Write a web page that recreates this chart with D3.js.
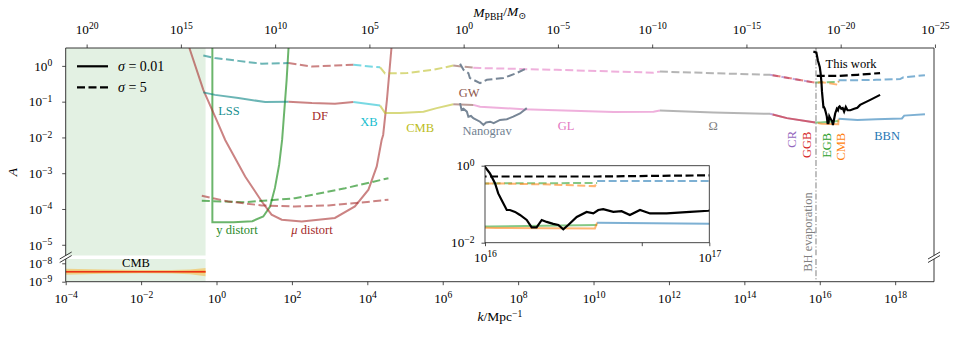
<!DOCTYPE html>
<html>
<head>
<meta charset="utf-8">
<script src="https://cdn.jsdelivr.net/npm/d3@7"></script>
<style>
body { margin: 0; background: #fff; }
text { font-family: "Liberation Serif", "DejaVu Serif", serif; }
</style>
</head>
<body>
<div id="chart"></div>
<script>
// all pairs are [log10(k / Mpc^-1), log10(A)]
const lssSolid = [[-0.35,-0.74],[-0.04,-0.81],[0.58,-0.90],[1.29,-1.01],[1.91,-1.00]]
const lssDash = [[-0.35,0.29],[-0.04,0.22],[0.58,0.14],[1.2,0.06],[1.91,0.08]]
const dfSolid = [[1.91,-1.00],[2.53,-1.04],[3.14,-1.06],[3.63,-1.01]]
const dfDash = [[1.91,0.08],[2.53,-0.02],[3.14,0.01],[3.63,0.03]]
const xbSolid = [[3.63,-1.01],[4.34,-1.11]]
const xbDash = [[3.63,0.03],[4.34,-0.04]]
const cmbSolid = [[4.34,-1.11],[4.47,-1.32],[4.87,-1.32],[5.49,-1.28],[5.84,-1.18],[6.28,-1.07]]
const cmbDash = [[4.34,-0.04],[4.47,-0.21],[5.05,-0.20],[5.75,-0.11],[6.28,0.01]]
const gwSolid = [[6.28,-1.07],[6.81,-1.09]]
const gwDash = [[6.28,0.01],[6.81,-0.05]]
const glSolid = [[6.81,-1.09],[6.99,-1.14],[8.14,-1.21],[10.53,-1.29],[11.59,-1.28],[11.76,-1.25]]
const glDash = [[6.81,-0.05],[6.99,-0.06],[9.02,-0.11],[11.59,-0.19],[11.76,-0.16]]
const omegaSolid = [[11.76,-1.25],[13.18,-1.30],[14.68,-1.34]]
const omegaDash = [[11.76,-0.16],[14.68,-0.25]]
const crSolid = [[14.68,-1.34],[15.13,-1.46],[15.88,-1.58]]
const crDash = [[14.68,-0.25],[15.88,-0.47]]
const ggbSolid = [[14.75,-1.36],[15.13,-1.46],[15.88,-1.58]]
const ggbDash = [[14.75,-0.26],[15.88,-0.47]]
const egbSolid = [[15.88,-1.58],[16.02,-1.58],[16.5,-1.54]]
const egbDash = [[15.88,-0.47],[16.0,-0.46],[16.5,-0.45]]
const cmbGSolid = [[15.95,-1.60],[16.05,-1.62],[16.49,-1.63],[16.5,-1.48]]
const cmbGDash = [[15.95,-0.47],[16.05,-0.46],[16.3,-0.49],[16.49,-0.53],[16.5,-0.42]]
const bbnSolid = [[16.5,-1.48],[17.0,-1.51],[17.5,-1.49],[18.18,-1.47],[18.24,-1.39],[18.79,-1.35]]
const bbnDash = [[16.5,-0.40],[17.0,-0.40],[17.5,-0.39],[18.13,-0.37],[18.22,-0.32],[18.79,-0.26]]
const nanogravSolid = [[6.46,-1.04],[6.50,-1.23],[6.55,-1.20],[6.64,-1.28],[6.68,-1.42],[6.75,-1.40],[6.81,-1.46],[6.99,-1.56],[7.08,-1.65],[7.15,-1.58],[7.26,-1.56],[7.35,-1.60],[7.52,-1.51],[7.70,-1.49],[7.87,-1.42],[8.05,-1.33],[8.23,-1.18]]
const nanogravDash = [[6.46,0.06],[6.55,-0.11],[6.68,-0.20],[6.72,-0.34],[6.99,-0.48],[7.17,-0.39],[7.61,-0.34],[7.96,-0.20],[8.18,-0.09]]
const yDistSolid = [[-0.11,0.5],[-0.11,-4.37],[0.45,-4.37],[0.95,-4.34],[1.24,-4.21],[1.42,-3.93],[1.55,-3.41],[1.66,-2.77],[1.74,-2.07],[1.80,-1.23],[1.86,-0.39],[1.91,0.5]]
const muDistSolid = [[-0.72,0.5],[-0.35,-0.67],[0.0,-1.51],[0.23,-2.07],[0.76,-3.09],[1.20,-3.79],[1.46,-4.16],[1.73,-4.30],[2.26,-4.35],[3.14,-4.25],[3.67,-3.93],[4.03,-3.46],[4.25,-2.81],[4.38,-2.07],[4.42,-1.93],[4.52,-0.95],[4.64,0.5]]
const yDistDash = [[-0.39,-3.77],[0.44,-3.80],[0.76,-3.81],[2.08,-3.70],[3.41,-3.42],[4.56,-3.14]]
const muDistDash = [[-0.39,-3.63],[0.31,-3.79],[1.20,-3.90],[2.08,-3.93],[2.97,-3.90],[3.85,-3.82],[4.56,-3.74]]
const thisWorkSolid = [[15.83,0.40],[15.91,0.37],[15.95,0.15],[16.0,-0.03],[16.022,-0.20],[16.045,-0.46],[16.059,-0.72],[16.074,-0.89],[16.097,-1.15],[16.111,-1.15],[16.134,-1.20],[16.156,-1.28],[16.186,-1.41],[16.208,-1.60],[16.23,-1.60],[16.253,-1.41],[16.275,-1.46],[16.304,-1.51],[16.327,-1.54],[16.349,-1.65],[16.371,-1.54],[16.409,-1.33],[16.453,-1.20],[16.483,-1.24],[16.505,-1.15],[16.527,-1.13],[16.572,-1.20],[16.609,-1.18],[16.646,-1.28],[16.691,-1.15],[16.736,-1.24],[16.81,-1.24],[16.914,-1.20],[16.996,-1.17],[17.07,-1.09],[17.34,-0.95],[17.6,-0.81]]
const thisWorkDash = [[15.92,-0.28],[16.5,-0.28],[17.0,-0.25],[17.6,-0.20]]
// CMB amplitude band in the lower panel
const cmbBandK = [-4, -3, -2, -1.2, -0.7, -0.29]
const cmbBandLo = [-8.62, -8.57, -8.54, -8.55, -8.60, -8.70]
const cmbBandHi = [-8.29, -8.34, -8.37, -8.37, -8.33, -8.26]
const cmbBandIn = [0.06, 0.05, 0.04, 0.04, 0.05, 0.07]
const cmbCentre = -8.46
const shadedK = [-4, -0.29]
const evaporationK = 15.9
const kTicks = [-4,-2,0,2,4,6,8,10,12,14,16,18]
const mTicks = [20,15,10,5,0,-5,-10,-15,-20,-25]
const aTicks = [0,-1,-2,-3,-4,-5]
const aLowTicks = [-8,-9]

const width = 959
const height = 337
const left = 65.7, right = 934
const topY = 48, upperBottom = 255.5, lowerTop = 259, bottomY = 281.7

const p10 = v => Math.pow(10, v)
const mOf = lk => -2 * (lk - 6.555)

const x = d3.scaleLog().domain([p10(-4), p10(19.03)]).range([left, right])
const xM = d3.scaleLog().domain([p10(mOf(-4)), p10(mOf(19.03))]).range([left, right])
const yUp = d3.scaleLog().domain([p10(-5.3), p10(0.5)]).range([upperBottom, topY])
const yLow = d3.scaleLog().domain([p10(-9), p10(-7.766)]).range([bottomY, lowerTop])

const svg = d3.select("#chart").append("svg")
    .attr("width", width).attr("height", height)
    .attr("viewBox", [0, 0, width, height])

const defs = svg.append("defs")
defs.append("clipPath").attr("id", "clip-up").append("rect")
    .attr("x", left).attr("y", topY).attr("width", right - left).attr("height", upperBottom - topY)
defs.append("clipPath").attr("id", "clip-low").append("rect")
    .attr("x", left).attr("y", lowerTop).attr("width", right - left).attr("height", bottomY - lowerTop)

const layer_shade = svg.append("g")
const layer_lines = svg.append("g").attr("clip-path", "url(#clip-up)")
const layer_low = svg.append("g").attr("clip-path", "url(#clip-low)")
const layer_text = svg.append("g").attr("font-size", 12.5)
const layer_inset = svg.append("g")
const layer_axes = svg.append("g")

// shaded (excluded) region
layer_shade.append("rect")
    .attr("x", x(p10(shadedK[0]))).attr("y", topY)
    .attr("width", x(p10(shadedK[1])) - x(p10(shadedK[0])))
    .attr("height", upperBottom - topY)
    .attr("fill", "green").attr("fill-opacity", 0.11)
layer_shade.append("rect")
    .attr("x", x(p10(shadedK[0]))).attr("y", lowerTop)
    .attr("width", x(p10(shadedK[1])) - x(p10(shadedK[0])))
    .attr("height", bottomY - lowerTop)
    .attr("fill", "green").attr("fill-opacity", 0.11)

const lineFor = (xs, ys) => d3.line().x(d => xs(p10(d[0]))).y(d => ys(p10(d[1])))
const mainLine = lineFor(x, yUp)

const series = [
    {d: yDistSolid, c: "green", dash: false},
    {d: muDistSolid, c: "brown", dash: false},
    {d: yDistDash, c: "green", dash: true},
    {d: muDistDash, c: "brown", dash: true},
    {d: lssSolid, c: "teal", dash: false},
    {d: lssDash, c: "teal", dash: true},
    {d: dfSolid, c: "brown", dash: false},
    {d: dfDash, c: "brown", dash: true},
    {d: xbSolid, c: "#17becf", dash: false},
    {d: xbDash, c: "#17becf", dash: true},
    {d: cmbSolid, c: "#bcbd22", dash: false},
    {d: cmbDash, c: "#bcbd22", dash: true},
    {d: glSolid, c: "#e377c2", dash: false},
    {d: glDash, c: "#e377c2", dash: true},
    {d: gwSolid, c: "#8c564b", dash: false},
    {d: gwDash, c: "#8c564b", dash: true},
    {d: omegaSolid, c: "#7f7f7f", dash: false},
    {d: omegaDash, c: "#7f7f7f", dash: true},
    {d: crSolid, c: "#9467bd", dash: false},
    {d: crDash, c: "#9467bd", dash: true},
    {d: ggbSolid, c: "#d62728", dash: false},
    {d: ggbDash, c: "#d62728", dash: true},
    {d: egbSolid, c: "#2ca02c", dash: false},
    {d: egbDash, c: "#2ca02c", dash: true},
    {d: cmbGSolid, c: "#ff7f0e", dash: false},
    {d: cmbGDash, c: "#ff7f0e", dash: true},
    {d: bbnSolid, c: "#1f77b4", dash: false},
    {d: bbnDash, c: "#1f77b4", dash: true},
    {d: nanogravSolid, c: "slategray", dash: false, op: 0.95},
    {d: nanogravDash, c: "slategray", dash: true, op: 0.95},
]

layer_lines.selectAll("path.series")
    .data(series)
    .join("path")
    .attr("class", "series")
    .attr("fill", "none")
    .attr("stroke", s => s.c)
    .attr("stroke-opacity", s => s.op || 0.58)
    .attr("stroke-width", 2)
    .attr("stroke-dasharray", s => s.dash ? "8,3.5" : null)
    .attr("d", s => mainLine(s.d))

// evaporation line
layer_lines.append("line")
    .attr("x1", x(p10(evaporationK))).attr("x2", x(p10(evaporationK)))
    .attr("y1", topY).attr("y2", upperBottom)
    .attr("stroke", "#808080").attr("stroke-width", 1)
    .attr("stroke-dasharray", "6,2,1.2,2")
layer_low.append("line")
    .attr("x1", x(p10(evaporationK))).attr("x2", x(p10(evaporationK)))
    .attr("y1", lowerTop).attr("y2", bottomY)
    .attr("stroke", "#808080").attr("stroke-width", 1)
    .attr("stroke-dasharray", "6,2,1.2,2")

layer_lines.append("path")
    .attr("fill", "none").attr("stroke", "black").attr("stroke-width", 2.2)
    .attr("d", mainLine(thisWorkSolid))
layer_lines.append("path")
    .attr("fill", "none").attr("stroke", "black").attr("stroke-width", 2.2)
    .attr("stroke-dasharray", "8,3.5")
    .attr("d", mainLine(thisWorkDash))

// lower panel CMB band
const band = cmbBandK.map((k, i) => ({k: k, lo: cmbBandLo[i], hi: cmbBandHi[i], w: cmbBandIn[i]}))
layer_low.append("path")
    .attr("fill", "orange").attr("fill-opacity", 0.4)
    .attr("d", d3.area().x(d => x(p10(d.k))).y0(d => yLow(p10(d.lo))).y1(d => yLow(p10(d.hi)))(band))
layer_low.append("path")
    .attr("fill", "#ff9a1f").attr("fill-opacity", 0.75)
    .attr("d", d3.area().x(d => x(p10(d.k))).y0(d => yLow(p10(cmbCentre - d.w))).y1(d => yLow(p10(cmbCentre + d.w)))(band))
layer_low.append("line")
    .attr("x1", x(p10(cmbBandK[0]))).attr("x2", x(p10(cmbBandK[cmbBandK.length - 1])))
    .attr("y1", yLow(p10(cmbCentre))).attr("y2", yLow(p10(cmbCentre)))
    .attr("stroke", "#e8321a").attr("stroke-width", 1.3)

// labels, placed in data coordinates
const labels = [
    {t: "LSS", k: 0.33, a: -1.37, c: "#1a8f8f"},
    {t: "DF", k: 2.745, a: -1.51, c: "#a52a2a"},
    {t: "XB", k: 4.045, a: -1.68, c: "#17becf"},
    {t: "CMB", k: 5.40, a: -1.84, c: "#bcbd22"},
    {t: "GW", k: 6.70, a: -0.87, c: "#8c564b"},
    {t: "Nanograv", k: 7.175, a: -1.94, c: "slategray"},
    {t: "GL", k: 9.27, a: -1.79, c: "#e377c2"},
    {t: "\u03a9", k: 13.17, a: -1.79, c: "#7f7f7f"},
    {t: "This work", k: 16.83, a: -0.056, c: "black"},
    {t: "BBN", k: 17.785, a: -2.07, c: "#1f77b4"},
    {t: "y distort", k: 0.544, a: -4.69, c: "#2b8a2b"},
    {t: "\u03bc distort", k: 2.533, a: -4.69, c: "#a52a2a", it: true},
]
layer_text.selectAll("text.lab")
    .data(labels)
    .join("text")
    .attr("class", "lab")
    .attr("text-anchor", "middle")
    .attr("x", d => x(p10(d.k)))
    .attr("y", d => yUp(p10(d.a)))
    .attr("fill", d => d.c)
    .each(function (d) {
        const t = d3.select(this)
        if (d.it) {
            t.append("tspan").attr("font-style", "italic").text("\u03bc")
            t.append("tspan").text(" distort")
        } else t.text(d.t)
    })

const vlabels = [
    {t: "CR", k: 15.25, a: -1.82, c: "#9467bd"},
    {t: "GGB", k: 15.655, a: -1.84, c: "#d62728"},
    {t: "EGB", k: 16.185, a: -1.87, c: "#2ca02c"},
    {t: "CMB", k: 16.55, a: -1.87, c: "#ff7f0e"},
]
layer_text.selectAll("text.vlab")
    .data(vlabels)
    .join("text")
    .attr("class", "vlab")
    .attr("text-anchor", "end")
    .attr("dy", "0.35em")
    .attr("transform", d => `translate(${x(p10(d.k))},${yUp(p10(d.a))}) rotate(-90)`)
    .attr("fill", d => d.c)
    .text(d => d.t)

layer_text.append("text")
    .attr("text-anchor", "start")
    .attr("dy", "0.35em")
    .attr("transform", `translate(${x(p10(15.675))},${yUp(p10(-5.754))}) rotate(-90)`)
    .attr("fill", "#808080")
    .text("BH evaporation")

layer_text.append("text")
    .attr("text-anchor", "middle")
    .attr("x", x(p10(-2.135))).attr("y", yLow(p10(-8.2)))
    .attr("fill", "black")
    .text("CMB")

// legend
const legend = layer_text.append("g")
legend.append("line").attr("x1", 77).attr("x2", 108).attr("y1", 66.3).attr("y2", 66.3)
    .attr("stroke", "black").attr("stroke-width", 2.2)
legend.append("line").attr("x1", 77).attr("x2", 108).attr("y1", 87.3).attr("y2", 87.3)
    .attr("stroke", "black").attr("stroke-width", 2.2).attr("stroke-dasharray", "8,3.5")
legend.append("text").attr("x", 118).attr("y", 71).attr("font-size", 14)
    .call(t => { t.append("tspan").attr("font-style", "italic").text("\u03c3"); t.append("tspan").text(" = 0.01") })
legend.append("text").attr("x", 118).attr("y", 92).attr("font-size", 14)
    .call(t => { t.append("tspan").attr("font-style", "italic").text("\u03c3"); t.append("tspan").text(" = 5") })

// inset
const ix0 = 485, ix1 = 709.3, iy0 = 165.7, iy1 = 242.7
const xi = d3.scaleLog().domain([1e16, 1e17]).range([ix0, ix1])
const yi = d3.scaleLog().domain([1e-2, 1e0]).range([iy1, iy0])
defs.append("clipPath").attr("id", "clip-inset").append("rect")
    .attr("x", ix0).attr("y", iy0).attr("width", ix1 - ix0).attr("height", iy1 - iy0)
layer_inset.append("rect").attr("x", ix0).attr("y", iy0).attr("width", ix1 - ix0).attr("height", iy1 - iy0)
    .attr("fill", "white")
const insetLine = lineFor(xi, yi)
const insetSeries = [
    {d: egbSolid, c: "#2ca02c", dash: false},
    {d: egbDash, c: "#2ca02c", dash: true},
    {d: cmbGSolid, c: "#ff7f0e", dash: false},
    {d: cmbGDash, c: "#ff7f0e", dash: true},
    {d: bbnSolid, c: "#1f77b4", dash: false},
    {d: bbnDash, c: "#1f77b4", dash: true},
]
const inset_g = layer_inset.append("g").attr("clip-path", "url(#clip-inset)")
inset_g.selectAll("path.series")
    .data(insetSeries)
    .join("path")
    .attr("fill", "none")
    .attr("stroke", s => s.c)
    .attr("stroke-opacity", 0.58)
    .attr("stroke-width", 2)
    .attr("stroke-dasharray", s => s.dash ? "8,3.5" : null)
    .attr("d", s => insetLine(s.d))
inset_g.append("path")
    .attr("fill", "none").attr("stroke", "black").attr("stroke-width", 2.2)
    .attr("d", insetLine(thisWorkSolid))
inset_g.append("path")
    .attr("fill", "none").attr("stroke", "black").attr("stroke-width", 2.2)
    .attr("stroke-dasharray", "8,3.5")
    .attr("d", insetLine(thisWorkDash))
layer_inset.append("rect").attr("x", ix0).attr("y", iy0).attr("width", ix1 - ix0).attr("height", iy1 - iy0)
    .attr("fill", "none").attr("stroke", "#333").attr("stroke-width", 0.9)

// axes
const sup = e => e < 0 ? "\u2212" + (-e) : String(e)
const powLabels = g => g.selectAll(".tick text").each(function (d) {
    const e = Math.round(Math.log10(d))
    const t = d3.select(this).text(null)
    if (d === 5e16) return
    t.append("tspan").text("10")
    t.append("tspan").attr("dy", "-0.45em").attr("font-size", "9.6px").text(sup(e))
})
const styleAxis = g => {
    g.attr("font-size", 13.2).attr("font-family", null)
    g.select(".domain").remove()
    g.selectAll(".tick line").attr("stroke", "#222").attr("stroke-width", 0.8)
    g.selectAll(".tick text").attr("fill", "black")
}

layer_axes.append("g")
    .attr("transform", `translate(0,${bottomY})`)
    .call(d3.axisBottom(x).tickValues(kTicks.map(p10)).tickSize(3.5).tickPadding(8))
    .call(styleAxis).call(powLabels)
layer_axes.append("g")
    .attr("transform", `translate(0,${topY})`)
    .call(d3.axisTop(xM).tickValues(mTicks.map(p10)).tickSize(3.5).tickPadding(11))
    .call(styleAxis).call(powLabels)
layer_axes.append("g")
    .attr("transform", `translate(${left},0)`)
    .call(d3.axisLeft(yUp).tickValues(aTicks.map(p10)).tickSize(3.5).tickPadding(10))
    .call(styleAxis).call(powLabels)
layer_axes.append("g")
    .attr("transform", `translate(${left},0)`)
    .call(d3.axisLeft(yLow).tickValues(aLowTicks.map(p10)).tickSize(3.5).tickPadding(10))
    .call(styleAxis).call(powLabels)
layer_axes.append("g")
    .attr("transform", `translate(0,${iy1})`)
    .call(d3.axisBottom(xi).tickValues([1e16, 5e16, 1e17]).tickSize(3.5).tickPadding(6))
    .call(styleAxis).call(powLabels)
layer_axes.append("g")
    .attr("transform", `translate(${ix0},0)`)
    .call(d3.axisLeft(yi).tickValues([1e0, 1e-2]).tickSize(3.5).tickPadding(7))
    .call(styleAxis).call(powLabels)

// frame of the two panels
const frame = layer_axes.append("g").attr("stroke", "#222").attr("stroke-width", 0.9).attr("fill", "none")
frame.append("path").attr("d", `M${left},${upperBottom}V${topY}H${right}V${upperBottom}`)
frame.append("path").attr("d", `M${left},${lowerTop}V${bottomY}H${right}V${lowerTop}`)
// break marks
for (const bx of [left, right]) {
    for (const by of [upperBottom, lowerTop]) {
        frame.append("line").attr("x1", bx - 6).attr("y1", by + 3.5).attr("x2", bx + 6).attr("y2", by - 3.5)
    }
}

// axis titles
svg.append("text").attr("x", (left + right) / 2).attr("y", 321).attr("text-anchor", "middle").attr("font-size", 13.5)
    .call(t => {
        t.append("tspan").attr("font-style", "italic").text("k")
        t.append("tspan").text("/Mpc")
        t.append("tspan").attr("dy", "-0.45em").attr("font-size", "9.6px").text("\u22121")
    })
svg.append("text").attr("x", (left + right) / 2).attr("y", 17).attr("text-anchor", "middle").attr("font-size", 13.5)
    .call(t => {
        t.append("tspan").attr("font-style", "italic").text("M")
        t.append("tspan").attr("dy", "0.3em").attr("font-size", "9.6px").text("PBH")
        t.append("tspan").attr("dy", "-0.3em").text("/")
        t.append("tspan").attr("font-style", "italic").text("M")
        t.append("tspan").attr("dy", "0.3em").attr("font-size", "9.6px").text("\u2299")
    })
svg.append("text").attr("transform", `translate(17,172) rotate(-90)`).attr("text-anchor", "middle")
    .attr("font-size", 13.5).attr("font-style", "italic").text("A")
</script>
</body>
</html>
